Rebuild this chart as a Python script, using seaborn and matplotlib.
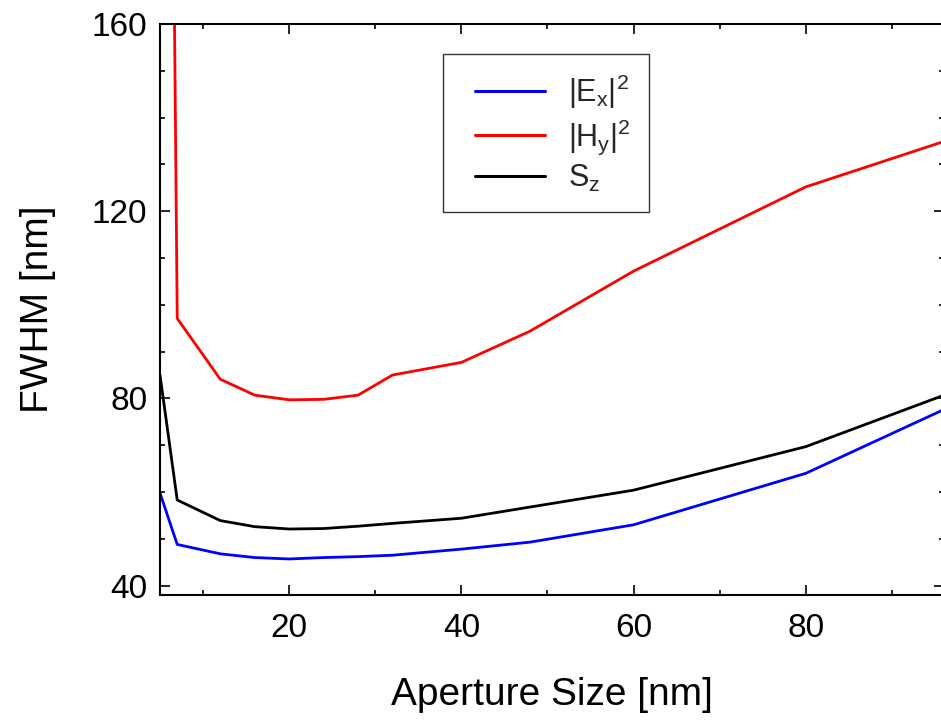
import seaborn as sns
import numpy as np
import matplotlib.pyplot as plt
import pandas as pd
from matplotlib.ticker import MultipleLocator
from matplotlib.lines import Line2D
from matplotlib.legend_handler import HandlerLine2D

# Data
aperture = [5, 7, 12, 16, 20, 24, 28, 32, 40, 48, 60, 80, 100]
fwhm_ex = [59.8, 48.8, 46.8, 46.0, 45.7, 46.0, 46.2, 46.5, 47.8, 49.3, 53.0, 64.0, 81.0]
fwhm_hy = [500.0, 97.1, 84.1, 80.7, 79.7, 79.8, 80.7, 85.0, 87.7, 94.4, 107.2, 125.2, 137.3]
fwhm_sz = [85.0, 58.3, 53.9, 52.6, 52.1, 52.2, 52.7, 53.3, 54.4, 56.8, 60.4, 69.7, 83.4]
labels = [r'$|E_x|^2$', r'$|H_y|^2$', r'$S_z$']
colors = ['#0000ff', '#ff0000', '#000000']

df = pd.DataFrame({
    'size': aperture * 3,
    'fwhm': fwhm_ex + fwhm_hy + fwhm_sz,
    'field': [labels[0]] * len(aperture) + [labels[1]] * len(aperture) + [labels[2]] * len(aperture),
})

sns.set_style('ticks')
plt.rcParams['font.family'] = ['Liberation Sans', 'DejaVu Sans']
plt.rcParams['mathtext.fontset'] = 'custom'
plt.rcParams['mathtext.rm'] = 'Liberation Sans'
plt.rcParams['mathtext.it'] = 'Liberation Sans'
plt.rcParams['mathtext.bf'] = 'Liberation Sans'

fig = plt.figure(figsize=(9.41, 7.2), dpi=100)
ax = fig.add_axes([160 / 941, 125 / 720, 783.6 / 941, 571 / 720])

sns.lineplot(data=df, x='size', y='fwhm', hue='field', palette=colors,
             linewidth=2.0, ax=ax, sort=False)

ax.set_xlim(5, 96)
ax.set_ylim(38, 160)
ax.xaxis.set_major_locator(MultipleLocator(20))
ax.xaxis.set_minor_locator(MultipleLocator(10))
ax.yaxis.set_major_locator(MultipleLocator(40))
ax.yaxis.set_minor_locator(MultipleLocator(10))
ax.tick_params(which='both', direction='in', top=True, right=True, width=1.2,
               labelsize=24, colors='black')
ax.tick_params(axis='x', which='major', length=7, pad=13)
ax.tick_params(axis='y', which='major', length=7, pad=9)
ax.tick_params(which='minor', length=3.5)
for sp in ax.spines.values():
    sp.set_linewidth(1.5)
    sp.set_color('black')

ax.set_xlabel('Aperture Size [nm]', fontsize=28, labelpad=24, color='black')
ax.set_ylabel('FWHM [nm]', fontsize=28, labelpad=26, color='black')

# legend: line handle shifted right inside its slot to leave a wide left margin
leg = ax.legend(loc='upper left', bbox_to_anchor=(0.361, 0.947), fontsize=22,
                frameon=True, fancybox=False, edgecolor='black',
                handlelength=2.75, handletextpad=0.75, borderpad=0.6,
                labelspacing=0.2, borderaxespad=0,
                handler_map={Line2D: HandlerLine2D(xpad=0.46)})
leg.get_frame().set_linewidth(1.0)
for line in leg.get_lines():
    line.set_linewidth(2.2)

fig.savefig('out.png', dpi=100)
